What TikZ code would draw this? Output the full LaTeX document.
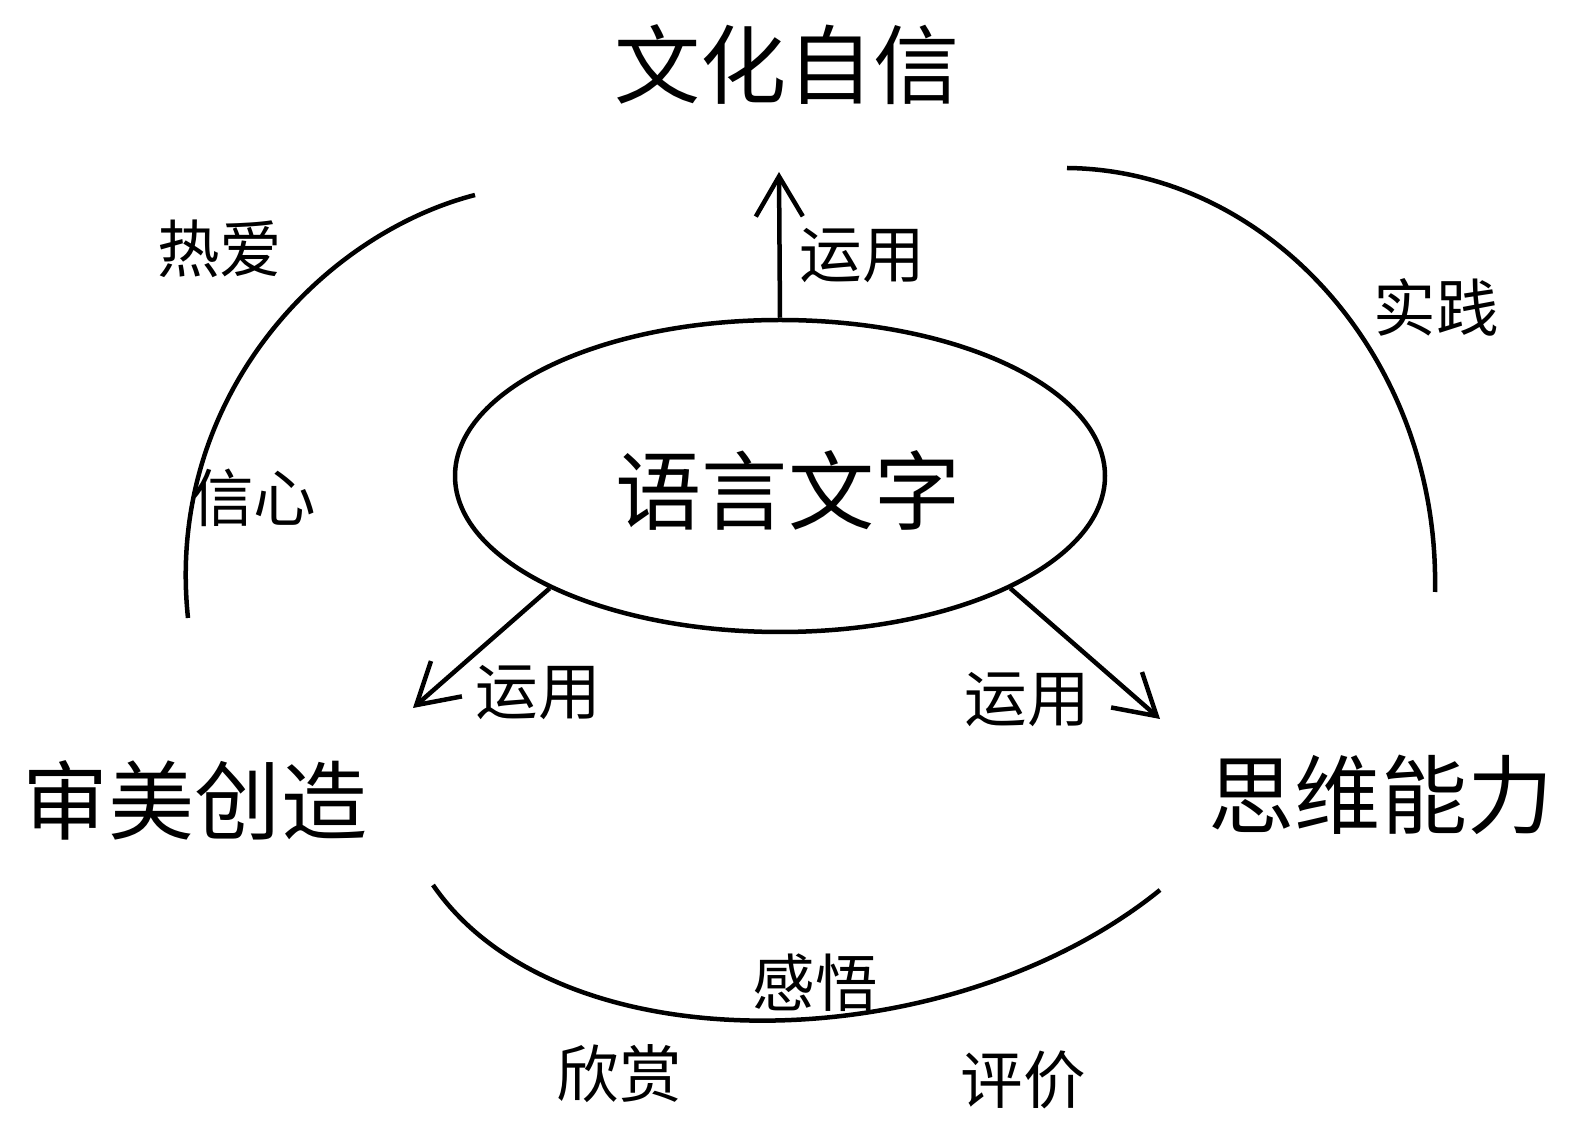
\documentclass[tikz,border=0pt]{standalone}
\usepackage{fontspec}
\setmainfont{Noto Sans CJK SC}
\usetikzlibrary{shapes.geometric,arrows.meta}

\begin{document}
\begin{tikzpicture}
	\useasboundingbox (0,0) rectangle (15.75,11.28);
	\begin{scope}[every node/.style={inner sep=0pt,font=\fontsize{24.5}{26}\selectfont}]
	\node (T) at (7.87,10.63) {文化自信};
	\node (A) at (1.95,3.28) {审美创造};
	\node (B) at (13.81,3.33) {思维能力};
	\node[ellipse,draw,line width=0.45mm,minimum width=6.5cm,minimum height=3.12cm] (L) at (7.80,6.52) {};
	\node (Lt) at (7.88,6.38) {语言文字};
	\end{scope}
	\begin{scope}[every node/.style={inner sep=0pt,font=\fontsize{17.8}{19}\selectfont}]
	\node (u1) at (8.62,8.72) {运用};
	\node (u2) at (5.38,4.35) {运用};
	\node (u3) at (10.27,4.28) {运用};
	\node (r1) at (2.20,8.79) {热爱};
	\node (r2) at (2.54,6.30) {信心};
	\node (s1) at (14.36,8.21) {实践};
	\node (g1) at (8.15,1.45) {感悟};
	\node (g2) at (6.19,0.54) {欣赏};
	\node (g3) at (10.23,0.48) {评价};
	\end{scope}
	\coordinate (tU) at (7.79,9.56);
	\coordinate (tL) at (4.13,4.20);
	\coordinate (tR) at (11.60,4.09);
	\draw [line width=0.45mm,-{Straight Barb[length=4mm,width=4.7mm]}] (L.north) -- (tU);
	\draw [line width=0.45mm,-{Straight Barb[length=4mm,width=4.7mm]}] (L.206) -- (tL);
	\draw [line width=0.45mm,-{Straight Barb[length=4mm,width=4.7mm]}] (L.334) -- (tR);
	\draw [line width=0.45mm] (4.75,9.33) .. controls (3.20,8.93) and (1.65,7.28) .. (1.88,5.10);
	\draw [line width=0.45mm] (10.67,9.60) .. controls (12.70,9.58) and (14.40,7.68) .. (14.35,5.36);
	\draw [line width=0.45mm] (4.33,2.43) .. controls (5.60,0.58) and (9.50,0.68) .. (11.60,2.38);
\end{tikzpicture}
\end{document}
